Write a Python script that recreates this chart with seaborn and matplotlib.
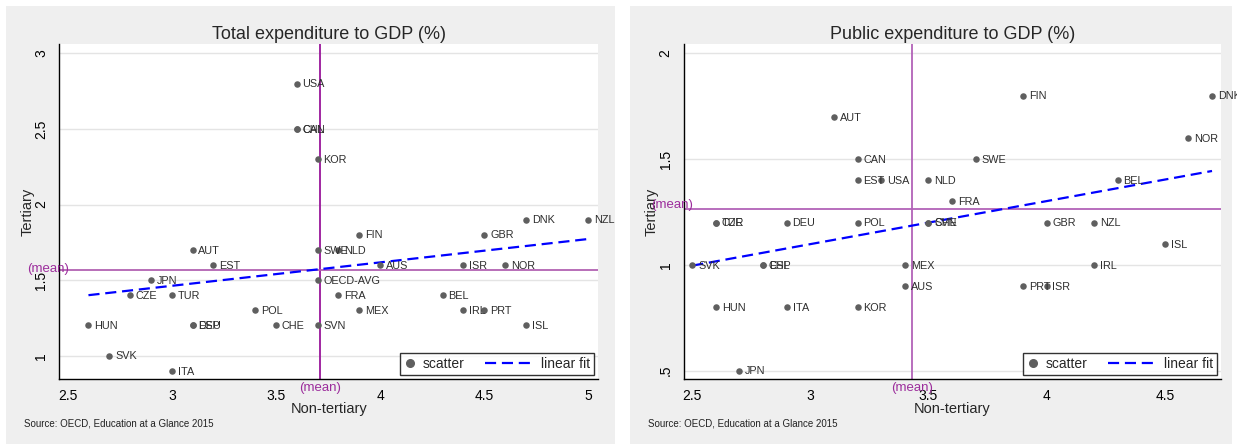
import matplotlib
matplotlib.use("Agg")
import matplotlib.pyplot as plt
from matplotlib.patches import Rectangle
from matplotlib.lines import Line2D
from matplotlib.legend_handler import HandlerBase
import matplotlib.transforms as mtransforms
import numpy as np
import pandas as pd
import seaborn as sns

# ---- data: expenditure on education institutions as % of GDP ----
total_countries = ["USA", "CAN", "CHL", "KOR", "DNK", "NZL", "AUT", "EST", "JPN",
                   "CZE", "TUR", "POL", "HUN", "ESP", "DEU", "CHE", "SVK", "ITA",
                   "FIN", "GBR", "SWE", "NLD", "AUS", "ISR", "NOR", "OECD-AVG",
                   "FRA", "BEL", "MEX", "IRL", "PRT", "SVN", "ISL"]
total_nontertiary = [3.6, 3.6, 3.6, 3.7, 4.7, 5.0, 3.1, 3.2, 2.9,
                     2.8, 3.0, 3.4, 2.6, 3.1, 3.1, 3.5, 2.7, 3.0,
                     3.9, 4.5, 3.7, 3.8, 4.0, 4.4, 4.6, 3.7,
                     3.8, 4.3, 3.9, 4.4, 4.5, 3.7, 4.7]
total_tertiary = [2.8, 2.5, 2.5, 2.3, 1.9, 1.9, 1.7, 1.6, 1.5,
                  1.4, 1.4, 1.3, 1.2, 1.2, 1.2, 1.2, 1.0, 0.9,
                  1.8, 1.8, 1.7, 1.7, 1.6, 1.6, 1.6, 1.5,
                  1.4, 1.4, 1.3, 1.3, 1.3, 1.2, 1.2]
total_mean = (3.71, 1.565)

public_countries = ["AUT", "CAN", "EST", "USA", "NLD", "FIN", "DNK", "NOR", "SWE",
                    "BEL", "FRA", "CHE", "SVN", "GBR", "NZL", "CZE", "TUR", "DEU",
                    "POL", "SVK", "CHL", "ESP", "MEX", "AUS", "HUN", "ITA", "KOR",
                    "JPN", "ISL", "IRL", "PRT", "ISR"]
public_nontertiary = [3.1, 3.2, 3.2, 3.3, 3.5, 3.9, 4.7, 4.6, 3.7,
                      4.3, 3.6, 3.5, 3.5, 4.0, 4.2, 2.6, 2.6, 2.9,
                      3.2, 2.5, 2.8, 2.8, 3.4, 3.4, 2.6, 2.9, 3.2,
                      2.7, 4.5, 4.2, 3.9, 4.0]
public_tertiary = [1.7, 1.5, 1.4, 1.4, 1.4, 1.8, 1.8, 1.6, 1.5,
                   1.4, 1.3, 1.2, 1.2, 1.2, 1.2, 1.2, 1.2, 1.2,
                   1.2, 1.0, 1.0, 1.0, 1.0, 0.9, 0.8, 0.8, 0.8,
                   0.5, 1.1, 1.0, 0.9, 0.9]
public_mean = (3.43, 1.266)

titles = ["Total expenditure to GDP (%)", "Public expenditure to GDP (%)"]
source_note = "Source: OECD, Education at a Glance 2015"

# ---- style ----
sns.set_style("white")
plt.rcParams["font.family"] = ["Liberation Sans", "DejaVu Sans"]

W, H = 1237, 445
fig = plt.figure(figsize=(W / 100, H / 100), dpi=100, facecolor="white")

PANEL_BG = "#efefef"
DOT = "#5f5f5f"
FIT = "#0000ff"
FIT_LS = (0, (5, 2.6))
MEAN_TXT = "#9c2d9c"


class DotHandler(HandlerBase):
    """Single marker centred in a short handle."""
    def create_artists(self, legend, orig_handle, xdescent, ydescent,
                       width, height, fontsize, trans):
        ln = Line2D([width / 2 - xdescent], [height / 2 - ydescent], marker="o",
                    ls="none", color=DOT, markersize=5.5, transform=trans)
        return [ln]


class LongDashHandler(HandlerBase):
    """Dashed line that reaches back into the column gap."""
    def create_artists(self, legend, orig_handle, xdescent, ydescent,
                       width, height, fontsize, trans):
        y = height / 2 - ydescent
        ln = Line2D([-xdescent - 27, width - xdescent], [y, y], color=FIT,
                    lw=1.6, ls=FIT_LS, transform=trans)
        return [ln]


def px_rect(x0, y0, x1, y1):
    return [x0 / W, 1 - y1 / H, (x1 - x0) / W, (y1 - y0) / H]


# grey plot regions behind each panel (on a background axes)
bg = fig.add_axes([0, 0, 1, 1], zorder=-10)
bg.set_xlim(0, W)
bg.set_ylim(H, 0)
bg.axis("off")
for (x0, x1) in [(6, 615), (630, 1232)]:
    bg.add_patch(Rectangle((x0, 6), x1 - x0, 438, facecolor=PANEL_BG,
                           edgecolor="none"))

panels = [
    dict(rect=px_rect(59.3, 44.3, 598, 379), df=pd.DataFrame(
        {"country": total_countries, "x": total_nontertiary, "y": total_tertiary}),
         mean=total_mean, xlim=(2.46, 5.046), ylim=(0.846, 3.06),
         xticks=[2.5, 3, 3.5, 4, 4.5, 5], xtl=["2.5", "3", "3.5", "4", "4.5", "5"],
         yticks=[1, 1.5, 2, 2.5, 3], ytl=["1", "1.5", "2", "2.5", "3"],
         vcol="#98169a", hcol="#b262b2", src_x=24, mean_dy=1.0),
    dict(rect=px_rect(683.7, 44.3, 1221, 379), df=pd.DataFrame(
        {"country": public_countries, "x": public_nontertiary, "y": public_tertiary}),
         mean=public_mean, xlim=(2.464, 4.738), ylim=(0.461, 2.043),
         xticks=[2.5, 3, 3.5, 4, 4.5], xtl=["2.5", "3", "3.5", "4", "4.5"],
         yticks=[0.5, 1, 1.5, 2], ytl=[".5", "1", "1.5", "2"],
         vcol="#b262b8", hcol="#b262b8", src_x=648, mean_dy=3.0),
]

for p, title in zip(panels, titles):
    ax = fig.add_axes(p["rect"], zorder=1)
    ax.set_facecolor("white")
    df = p["df"]

    ax.set_xlim(*p["xlim"])
    ax.set_ylim(*p["ylim"])

    # horizontal grid
    for yt in p["yticks"]:
        ax.axhline(yt, color="#e4e4e4", lw=1.0, zorder=0.5)

    # mean reference lines
    mx, my = p["mean"]
    ax.axvline(mx, color=p["vcol"], lw=1.3, zorder=1)
    ax.axhline(my, color=p["hcol"], lw=1.3, zorder=1)

    sns.scatterplot(data=df, x="x", y="y", ax=ax, color=DOT, s=22,
                    edgecolor=DOT, linewidth=0, zorder=3, legend=False)
    for _, r in df.iterrows():
        t = ax.annotate(r["country"], (r["x"], r["y"]), xytext=(4.2, -0.5),
                        textcoords="offset points", va="center", ha="left",
                        fontsize=7.8, color="#2e2e2e", zorder=4,
                        annotation_clip=False)
        t.set_clip_on(False)

    sns.regplot(data=df, x="x", y="y", ax=ax, scatter=False, ci=None,
                truncate=True,
                line_kws=dict(color=FIT, lw=1.6, ls=FIT_LS, zorder=2))

    # mean labels
    tr_y = mtransforms.blended_transform_factory(ax.transAxes, ax.transData)
    ax.annotate("(mean)", (-0.06, my), xycoords=tr_y, xytext=(0, p["mean_dy"]),
                textcoords="offset points", ha="left", va="center",
                fontsize=9.5, color=MEAN_TXT, annotation_clip=False)
    tr_x = mtransforms.blended_transform_factory(ax.transData, ax.transAxes)
    ax.text(mx, -0.01, "(mean)", transform=tr_x, ha="center", va="top",
            fontsize=9.5, color=MEAN_TXT)

    # axes decoration
    for side in ["top", "right"]:
        ax.spines[side].set_visible(False)
    for side in ["left", "bottom"]:
        ax.spines[side].set_color("black")
        ax.spines[side].set_linewidth(1.0)
    ax.set_xticks(p["xticks"])
    ax.set_xticklabels(p["xtl"])
    ax.set_yticks(p["yticks"])
    ax.set_yticklabels(p["ytl"], rotation=90, va="center")
    ax.tick_params(axis="both", direction="out", length=5, width=1, color="black",
                   labelsize=10, labelcolor="black", pad=3)
    ax.tick_params(axis="x", pad=2.5)
    ax.set_xlabel("Non-tertiary", fontsize=10.5, labelpad=-1)
    ax.set_ylabel("Tertiary", fontsize=10.5, labelpad=0)
    ax.set_title(title, fontsize=13, pad=3.5)

    dot_h = Line2D([], [], marker="o", ls="none", color=DOT)
    fit_h = Line2D([], [], color=FIT, ls=FIT_LS)
    leg = ax.legend([dot_h, fit_h], ["scatter", "linear fit"], loc="lower right",
                    ncol=2, frameon=True, fancybox=False, fontsize=10,
                    handlelength=0.9, columnspacing=4.2, borderaxespad=0.3,
                    borderpad=0.3, handletextpad=0.4,
                    handler_map={dot_h: DotHandler(), fit_h: LongDashHandler()})
    leg.get_frame().set_edgecolor("black")
    leg.get_frame().set_linewidth(1.0)
    leg.set_zorder(6)

    fig.text(p["src_x"] / W, 1 - 424 / H, source_note, fontsize=7, ha="left",
             va="center", color="#222222")

fig.savefig("out.png", dpi=100, facecolor="white")
